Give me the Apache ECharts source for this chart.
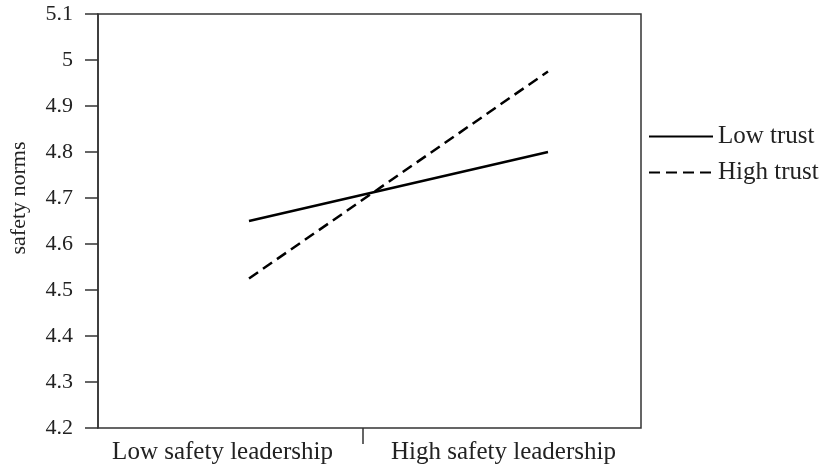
<!DOCTYPE html>
<html>
<head>
<meta charset="utf-8">
<script src="https://cdn.jsdelivr.net/npm/echarts@6/dist/echarts.min.js"></script>
<style>
html, body { margin: 0; padding: 0; background: #fff; }
#main { width: 824px; height: 467px; }
</style>
</head>
<body>
<div id="main"></div>
<script>
var leadership = ['Low safety leadership', 'High safety leadership'];
var lowTrust = [4.65, 4.80];
var highTrust = [4.525, 4.975];
var yMin = 4.2, yMax = 5.1, yStep = 0.1;

var font = '"Liberation Serif", "Times New Roman", serif';
var ink = '#222';
var frame = '#333';

var myChart = echarts.init(document.getElementById('main'));

myChart.setOption({
	animation : false,
	textStyle : { fontFamily : font, color : ink },
	grid : [
		// plot frame with y axis
		{ left : 97, right : 183, top : 14, bottom : 39, show : true,
			borderColor : frame, borderWidth : 1.5 },
		// category labels + middle tick
		{ left : 82, right : 180, top : 14, bottom : 39 },
		// lines
		{ left : 249, right : 276, top : 14, bottom : 39 }
	],
	legend : {
		orient : 'vertical',
		left : 643,
		top : 119,
		itemWidth : 64,
		itemHeight : 14,
		itemGap : 11,
		itemStyle : { color : 'rgba(0,0,0,0)', borderWidth : 0 },
		textStyle : { fontFamily : font, fontSize : 25, color : ink },
		data : [ 'Low trust', 'High trust' ]
	},
	xAxis : [ {
		gridIndex : 0,
		type : 'value',
		show : false
	}, {
		gridIndex : 1,
		type : 'value',
		min : 0,
		max : 2,
		axisLine : { show : false },
		splitLine : { show : false },
		axisTick : {
			show : true,
			length : 16,
			customValues : [ 1 ],
			lineStyle : { color : frame, width : 1.5 }
		},
		axisLabel : {
			customValues : [ 0.5, 1.5 ],
			margin : 12,
			fontFamily : font,
			fontSize : 25,
			color : ink,
			formatter : function(v) {
				return v < 1 ? leadership[0] : leadership[1];
			}
		}
	}, {
		gridIndex : 2,
		type : 'category',
		boundaryGap : false,
		data : leadership,
		show : false
	} ],
	yAxis : [ {
		gridIndex : 0,
		type : 'value',
		min : yMin,
		max : yMax,
		interval : yStep,
		name : 'safety norms',
		nameLocation : 'middle',
		nameGap : 68,
		nameTextStyle : { fontFamily : font, fontSize : 22, color : ink,
			padding : [ 0, 0, 0, 46 ] },
		axisLine : { show : true, lineStyle : { color : frame, width : 1.5 } },
		axisTick : { show : true, length : 13,
			lineStyle : { color : frame, width : 1.5 } },
		splitLine : { show : false },
		axisLabel : { margin : 25, fontFamily : font, fontSize : 22, color : ink }
	}, {
		gridIndex : 1,
		type : 'value',
		min : yMin,
		max : yMax,
		show : false
	}, {
		gridIndex : 2,
		type : 'value',
		min : yMin,
		max : yMax,
		show : false
	} ],
	series : [ {
		name : 'Low trust',
		type : 'line',
		xAxisIndex : 2,
		yAxisIndex : 2,
		symbol : 'none',
		lineStyle : { color : '#000', width : 2.5, type : 'solid' },
		itemStyle : { color : '#000' },
		data : lowTrust
	}, {
		name : 'High trust',
		type : 'line',
		xAxisIndex : 2,
		yAxisIndex : 2,
		symbol : 'none',
		lineStyle : { color : '#000', width : 2.5, type : [ 11, 6 ] },
		itemStyle : { color : '#000' },
		data : highTrust
	} ]
});
</script>
</body>
</html>
